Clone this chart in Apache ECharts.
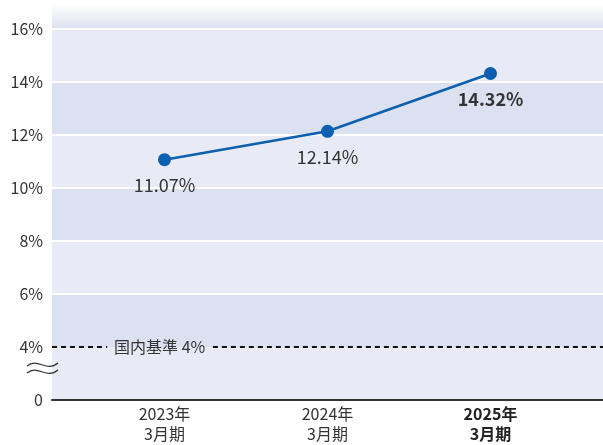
<!DOCTYPE html>
<html>
<head>
<meta charset="utf-8">
<script src="https://cdn.jsdelivr.net/npm/echarts@6/dist/echarts.min.js"></script>
<style>
  html, body { margin: 0; padding: 0; background: #fff; }
</style>
</head>
<body>
<div id="chart" style="width: 603px; height: 445px"></div>
<script>
// data
var categories = ["2023年\n3月期", "2024年\n3月期", "2025年\n3月期"];
var ratioValues = [11.07, 12.14, 14.32];
var baseLine = 4; // 国内基準
var yTicks = [2, 4, 6, 8, 10, 12, 14, 16]; // 2 is shown as "0" (axis break)

var FONT = "'Noto Sans CJK JP', 'Noto Sans', sans-serif";
var lightBand = "#e8ebf6";
var darkBand = "#dbe1f1";

var myChart = echarts.init(document.getElementById("chart"));

var seriesData = ratioValues.map(function (v, i) {
  var item = { value: v };
  if (i === ratioValues.length - 1) {
    item.label = { fontWeight: "bold" };
  }
  return item;
});

var option = {
  backgroundColor: "#fff",
  animation: false,
  textStyle: { fontFamily: FONT },
  grid: [
    { left: 52, right: 0, top: 29, bottom: 45 },
    { left: 83, right: 31, top: 29, bottom: 45 },
  ],
  xAxis: [
    {
      gridIndex: 0,
      type: "value",
      min: 0,
      max: 1,
      axisLine: { show: true, onZero: false, lineStyle: { color: "#333", width: 2 } },
      axisTick: { show: false },
      axisLabel: { show: false },
      splitLine: { show: false },
    },
    {
      gridIndex: 1,
      type: "category",
      data: categories,
      boundaryGap: true,
      axisLine: { show: false },
      axisTick: { show: false },
      axisLabel: {
        margin: 4,
        color: "#333",
        fontSize: 16,
        lineHeight: 20,
        fontFamily: FONT,
        formatter: function (v, i) {
          if (i === categories.length - 1) {
            return v.split("\n").map(function (s) { return "{b|" + s + "}"; }).join("\n");
          }
          return v;
        },
        rich: {
          b: { fontWeight: "bold", fontSize: 16, lineHeight: 20, color: "#222", fontFamily: FONT },
        },
      },
    },
  ],
  yAxis: [
    {
      gridIndex: 0,
      type: "value",
      min: yTicks[0],
      max: yTicks[yTicks.length - 1],
      interval: 2,
      axisLine: { show: false },
      axisTick: { show: false },
      axisLabel: {
        margin: 9,
        color: "#333",
        fontSize: 16,
        fontFamily: FONT,
        formatter: function (v) {
          return v === yTicks[0] ? "0" : v + "%";
        },
      },
      splitArea: { show: true, areaStyle: { color: [lightBand, darkBand] } },
      splitLine: {
        show: true,
        lineStyle: {
          width: 2,
          color: ["#fff", "rgba(0,0,0,0)", "#fff", "#fff", "#fff", "#fff", "#fff", "#fff"],
        },
      },
    },
    {
      gridIndex: 1,
      type: "value",
      min: yTicks[0],
      max: yTicks[yTicks.length - 1],
      interval: 2,
      show: false,
    },
  ],
  graphic: [
    {
      type: "rect",
      shape: { x: 52, y: 4, width: 551, height: 25 },
      style: {
        fill: new echarts.graphic.LinearGradient(0, 0, 0, 1, [
          { offset: 0, color: "#ffffff" },
          { offset: 1, color: "#dce1f0" },
        ]),
      },
      silent: true,
    },
    {
      type: "bezierCurve",
      shape: { x1: 27, y1: 366, cpx1: 38, cpy1: 357, cpx2: 46, cpy2: 373, x2: 58, y2: 363 },
      style: { stroke: "#333", lineWidth: 1.3, fill: null },
      z: 10,
    },
    {
      type: "bezierCurve",
      shape: { x1: 27, y1: 373, cpx1: 38, cpy1: 364, cpx2: 46, cpy2: 380, x2: 58, y2: 370 },
      style: { stroke: "#333", lineWidth: 1.3, fill: null },
      z: 10,
    },
  ],
  series: [
    {
      // 国内基準線
      type: "line",
      xAxisIndex: 0,
      yAxisIndex: 0,
      data: [],
      silent: true,
      markLine: {
        silent: true,
        symbol: "none",
        lineStyle: { color: "#111", width: 2, type: [5, 4] },
        data: [
          [
            {
              coord: [0, baseLine],
              label: {
                show: true,
                position: "end",
                distance: 7,
                formatter: "国内基準 4%",
                color: "#333",
                fontSize: 16,
                fontFamily: FONT,
              },
            },
            { coord: [0.1, baseLine] },
          ],
          [
            { coord: [0.292, baseLine], label: { show: false } },
            { coord: [1, baseLine] },
          ],
        ],
      },
    },
    {
      type: "line",
      xAxisIndex: 1,
      yAxisIndex: 1,
      data: seriesData,
      symbol: "circle",
      symbolSize: 13,
      lineStyle: { color: "#0b5fb1", width: 2.5 },
      itemStyle: { color: "#0b5fb1" },
      label: {
        show: true,
        position: "bottom",
        distance: 10,
        color: "#333",
        fontSize: 18,
        fontFamily: FONT,
        formatter: function (p) {
          return p.value.toFixed(2) + "%";
        },
      },
      z: 5,
    },
  ],
};

myChart.setOption(option);
window.onresize = function () {
  myChart.resize();
};
</script>
</body>
</html>
